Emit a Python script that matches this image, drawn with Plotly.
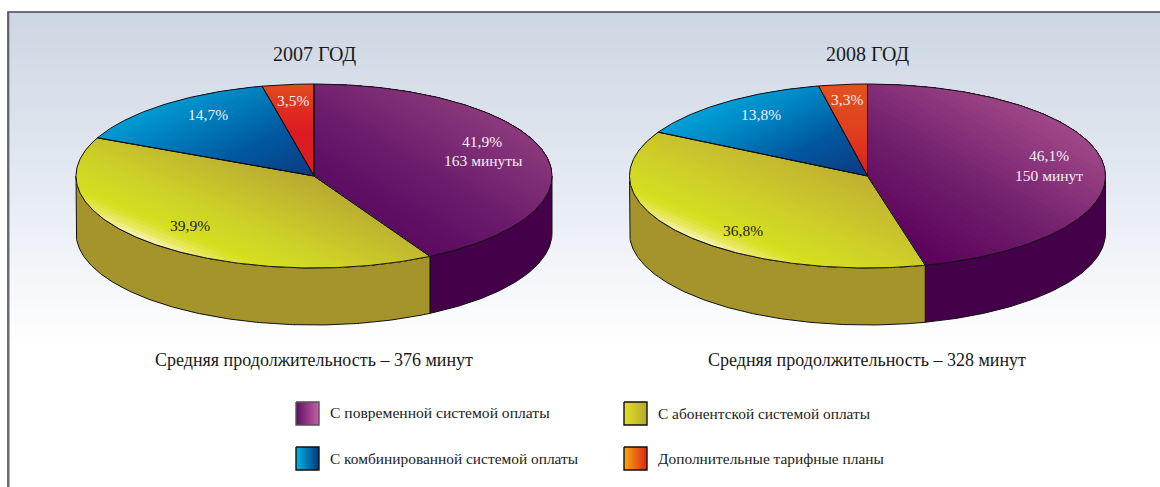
import numpy as np
import plotly.graph_objects as go

# ---------- data ----------
categories = ["С повременной системой оплаты", "С абонентской системой оплаты",
              "С комбинированной системой оплаты", "Дополнительные тарифные планы"]
years = ["2007 ГОД", "2008 ГОД"]
shares_2007 = [41.9, 39.9, 14.7, 3.5]
shares_2008 = [46.1, 36.8, 13.8, 3.3]
minutes_2007 = "163 минуты"
minutes_2008 = "150 минут"
footer_2007 = "Средняя продолжительность – 376 минут"
footer_2008 = "Средняя продолжительность – 328 минут"

# ---------- geometry and style ----------
W, H = 1160, 487
CY, RX, RY, DEPTH = 176.0, 238.0, 92.0, 57.0
SERIF = "Liberation Serif"
BANDS = 36

TOP_STYLE_2007 = [
    ((0.5, -0.85), [(0, "#5a0a60"), (0.45, "#6c1c6c"), (1, "#8c3a7c")]),
    ((0.38, -0.92), [(0, "#f8f4c0"), (0.07, "#e8e860"), (0.16, "#d6e020"), (0.45, "#cdd028"), (1, "#b8a832")]),
    ((0.45, 0.89), [(0, "#009ad4"), (0.25, "#0080be"), (0.6, "#0058a0"), (1, "#0e3a80")]),
    ((0, 1), [(0, "#e04e20"), (0.3, "#e02a20"), (0.5, "#dc1c22"), (1, "#dc1c22")]),
]
TOP_STYLE_2008 = [
    ((0.5, -0.85), [(0, "#5a005c"), (0.45, "#701e6c"), (1, "#a04888")]),
    ((0.38, -0.92), [(0, "#f8f4c0"), (0.07, "#e8e860"), (0.16, "#d6e020"), (0.45, "#cfd028"), (1, "#bfb032")]),
    ((0.45, 0.89), [(0, "#00a0d8"), (0.25, "#0088c4"), (0.6, "#0058a0"), (1, "#0e3a80")]),
    ((0, 1), [(0, "#e2521f"), (0.5, "#e0401f"), (1, "#dc1c22")]),
]
SIDE_COLORS = ["#440048", "#a5942c"]
SWATCHES = [
    (296, 402, "#5e1062", "#c85ea8", "#55505a"),
    (624, 402, "#e0e020", "#b8a832", "#111111"),
    (296, 447, "#00b4e8", "#00387a", "#111111"),
    (624, 447, "#f8a810", "#d82818", "#111111"),
]


def hex2rgb(c):
    return np.array([int(c[i:i + 2], 16) for i in (1, 3, 5)], float)


def mix(stops, t):
    for (a, ca), (b, cb) in zip(stops, stops[1:]):
        if t <= b:
            k = (t - a) / (b - a) if b > a else 0
            r = hex2rgb(ca) * (1 - k) + hex2rgb(cb) * k
            return "rgb(%d,%d,%d)" % tuple(r.round())
    return stops[-1][1]


def clip_half(pts, d, level):
    """Keep the part of a polygon whose projection on d is >= level."""
    out = []
    n = len(pts)
    p = pts @ np.array(d)
    for i in range(n):
        j = (i + 1) % n
        if p[i] >= level:
            out.append(pts[i])
        if (p[i] >= level) != (p[j] >= level):
            k = (level - p[i]) / (p[j] - p[i])
            out.append(pts[i] + k * (pts[j] - pts[i]))
    return np.array(out) if out else None


def arc(cx, a0, a1, dy=0.0):
    th = np.radians(np.linspace(a0, a1, max(int(abs(a1 - a0) * 1.5), 2)))
    return np.column_stack([cx + RX * np.sin(th), CY + dy - RY * np.cos(th)])


fig = go.Figure()


def poly(pts, fill=None, line=None, width=1.0, **kw):
    x = list(pts[:, 0]) + [pts[0, 0]]
    y = list(pts[:, 1]) + [pts[0, 1]]
    fig.add_trace(go.Scatter(
        x=x, y=y, mode="lines", hoverinfo="skip", showlegend=False,
        fill="toself" if (fill or kw) else "none", fillcolor=fill,
        line=dict(color=line or "rgba(0,0,0,0)", width=width if line else 0), **kw))


# background and frame
BG_STOPS = [(0, "#cdd6e3"), (0.5, "#e4e9f2"), (1, "#ffffff")]
BG_BOTTOM = 345.0
rect = np.array([[8, 12], [W, 12], [W, BG_BOTTOM], [8, BG_BOTTOM]], float)
for i in range(64):
    yy = 12 + (BG_BOTTOM - 12) * i / 64
    part = clip_half(rect, (0, 1), yy)
    poly(part, fill=mix(BG_STOPS, (i + 0.5) / 64))
fig.add_trace(go.Scatter(x=[9.5, 9.5], y=[H, 13.5], mode="lines", hoverinfo="skip", showlegend=False,
                         line=dict(color="#b0b0b4", width=1)))
fig.add_trace(go.Scatter(x=[8, 8, W], y=[H, 12, 12], mode="lines", hoverinfo="skip", showlegend=False,
                         line=dict(color="#46464e", width=1.6)))


def draw_pie(cx, shares, style):
    ends = np.cumsum(shares) / sum(shares) * 360.0
    starts = np.concatenate([[0], ends[:-1]])
    # side walls (only the visible lower half of the cylinder)
    split = ends[0]
    for a0, a1, col in [(90.0, split, SIDE_COLORS[0]), (split, 270.0, SIDE_COLORS[1])]:
        top = arc(cx, a0, a1)
        bot = arc(cx, a1, a0, DEPTH)
        poly(np.vstack([top, bot]), fill=col, line="#111111", width=1)
    # top faces
    c = np.array([cx, CY])
    for a0, a1, (d, stops) in zip(starts, ends, style):
        wedge = np.vstack([c, arc(cx, a0, a1)])
        p = wedge @ np.array(d)
        lo, hi = p.min(), p.max()
        for i in range(BANDS):
            level = lo + (hi - lo) * i / BANDS
            part = clip_half(wedge, d, level - 0.01)
            if part is not None and len(part) > 2:
                poly(part, fill=mix(stops, (i + 0.5) / BANDS))
    for a0, a1 in zip(starts, ends):
        wedge = np.vstack([c, arc(cx, a0, a1)])
        poly(wedge, line="#111111", width=1)


CX_2007, CX_2008 = 314.0, 867.5
draw_pie(CX_2007, shares_2007, TOP_STYLE_2007)
draw_pie(CX_2008, shares_2008, TOP_STYLE_2008)

# legend swatches
for (x0, y0, c0, c1, edge) in SWATCHES:
    sq = np.array([[x0, y0], [x0 + 23, y0], [x0 + 23, y0 + 23], [x0, y0 + 23]], float)
    poly(sq, line=edge, width=1.4,
         fillgradient=dict(type="horizontal", colorscale=[[0, c0], [1, c1]]))


def fmt(v):
    return f"{v:.1f}%".replace(".", ",")


notes = []


def note(x, y, text, size, color="#1a1a1a", anchor="center"):
    notes.append(dict(x=x, y=y, xref="x", yref="y", text=text, showarrow=False, xanchor=anchor,
                      yanchor="middle", font=dict(family=SERIF, size=size, color=color)))


LIGHT = "#f4eef4"
note(CX_2007 + 0.5, 54, years[0], 20)
note(CX_2008 + 0.5, 54, years[1], 20)
note(482, 141, fmt(shares_2007[0]), 15.5, LIGHT)
note(483, 160, minutes_2007, 15.5, LIGHT)
note(190, 225, fmt(shares_2007[1]), 15.5, "#1e1e10")
note(208, 114, fmt(shares_2007[2]), 15.5, LIGHT)
note(293, 100, fmt(shares_2007[3]), 15.5, LIGHT)
note(1049, 155, fmt(shares_2008[0]), 15.5, LIGHT)
note(1049, 175, minutes_2008, 15.5, LIGHT)
note(743, 230, fmt(shares_2008[1]), 15.5, "#1e1e10")
note(761, 114, fmt(shares_2008[2]), 15.5, LIGHT)
note(847, 99, fmt(shares_2008[3]), 15.5, LIGHT)
note(314, 360, footer_2007, 18)
note(867, 360, footer_2008, 18)
note(327.5, 412, categories[0], 15.6, "#222222", "left")
note(655.5, 413, categories[1], 15.4, "#222222", "left")
note(327.5, 458, categories[2], 15.4, "#222222", "left")
note(655.5, 458, categories[3], 15.4, "#222222", "left")

fig.update_layout(
    width=W, height=H, margin=dict(l=0, r=0, t=0, b=0, pad=0),
    paper_bgcolor="white", plot_bgcolor="white", showlegend=False, annotations=notes,
    xaxis=dict(range=[0, W], visible=False, fixedrange=True),
    yaxis=dict(range=[H, 0], visible=False, fixedrange=True),
)
fig.write_html("out.html", config=dict(displayModeBar=False),
               post_script="document.body.style.margin='0';document.body.style.overflow='hidden';")
